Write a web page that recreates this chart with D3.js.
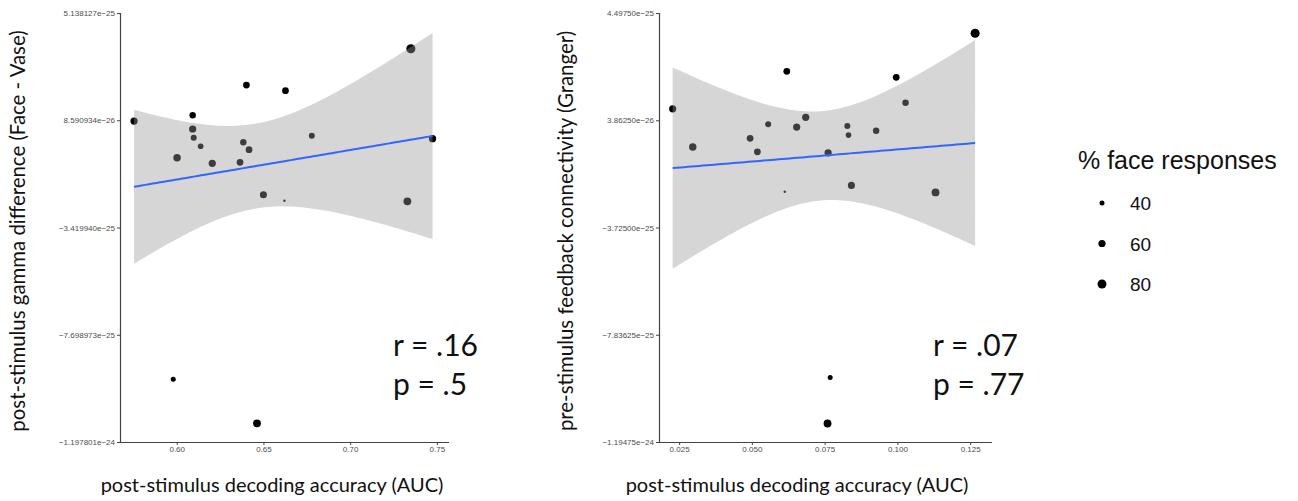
<!DOCTYPE html>
<html>
<head>
<meta charset="utf-8">
<script src="https://cdn.jsdelivr.net/npm/d3@7"></script>
<style>
  body { margin: 0; background: #fff; }
  .tick text { font-family: "Liberation Sans", Arial, sans-serif; font-size: 8px; fill: #4d4d4d; }
  .ttl { font-family: Lato, "Open Sans", sans-serif; fill: #111; }
</style>
</head>
<body>
<svg id="fig" width="1298" height="501"></svg>
<script>
// ---- data (y values in raw units) ----
const gammaX = [0.5754, 0.6092, 0.6092, 0.6098, 0.6138, 0.6002, 0.6205, 0.6402, 0.6627, 0.6384,
                0.6417, 0.6365, 0.6779, 0.7350, 0.7475, 0.6500, 0.6621, 0.7330, 0.5980, 0.6463];
const gammaY = [0.829e-25, 1.057e-25, 0.510e-25, 0.163e-25, -0.180e-25, -0.635e-25, -0.859e-25, 2.265e-25, 2.038e-25, -0.021e-25,
                -0.316e-25, -0.819e-25, 0.243e-25, 3.714e-25, 0.123e-25, -2.111e-25, -2.351e-25, -2.375e-25, -9.477e-25, -11.232e-25];
const gammaPct = [60, 52, 60, 48, 45, 62, 60, 55, 55, 52, 55, 55, 48, 82, 60, 58, 26, 66, 40, 66];

const grangerX = [0.0228, 0.0297, 0.0494, 0.0519, 0.0556, 0.0620, 0.0654, 0.0685, 0.0762, 0.0828,
                  0.0832, 0.0927, 0.0996, 0.1028, 0.1267, 0.0613, 0.0842, 0.1131, 0.0769, 0.0760];
const grangerY = [0.827e-25, -0.642e-25, -0.308e-25, -0.822e-25, 0.229e-25, 2.261e-25, 0.125e-25, 0.497e-25, -0.861e-25, 0.164e-25,
                  -0.182e-25, -0.017e-25, 2.031e-25, 1.057e-25, 3.719e-25, -2.356e-25, -2.111e-25, -2.379e-25, -9.475e-25, -11.239e-25];
const grangerPct = [60, 62, 55, 55, 48, 55, 60, 60, 60, 48, 45, 52, 55, 52, 82, 26, 58, 66, 40, 66];

const gammaXTicks = [0.60, 0.65, 0.70, 0.75];
const gammaYTicks = [5.138127e-25, 8.590934e-26, -3.419940e-25, -7.698973e-25, -1.197801e-24];
const gammaYLabels = ["5.138127e\u221225", "8.590934e\u221226", "\u22123.419940e\u221225", "\u22127.698973e\u221225", "\u22121.197801e\u221224"];

const grangerXTicks = [0.025, 0.050, 0.075, 0.100, 0.125];
const grangerYTicks = [4.49750e-25, 3.86250e-26, -3.72500e-25, -7.83625e-25, -1.19475e-24];
const grangerYLabels = ["4.49750e\u221225", "3.86250e\u221226", "\u22123.72500e\u221225", "\u22127.83625e\u221225", "\u22121.19475e\u221224"];

const legendVals = [40, 60, 80];

const svg = d3.select("#fig");

// point size: area linear in % face responses
const areaScale = d3.scaleLinear().domain([40, 80]).range([6.25, 20]);
const rad = (v) => Math.sqrt(Math.max(areaScale(v), 0.8));

function drawPanel(cfg) {
  const x = d3.scaleLinear().domain(cfg.xDomain).range([cfg.left, cfg.right]);
  const y = d3.scaleLinear().domain([cfg.yTicks[cfg.yTicks.length - 1], cfg.yTicks[0]]).range([442, 13]);
  const g = svg.append("g");

  // points first (ribbon sits on top, as in ggplot)
  g.selectAll(".pt")
    .data(cfg.xs.map((d, i) => ({ x: d, y: cfg.ys[i], p: cfg.pct[i] })))
    .enter()
    .append("circle")
    .attr("class", "pt")
    .attr("cx", (d) => x(d.x))
    .attr("cy", (d) => y(d.y))
    .attr("r", (d) => rad(d.p))
    .attr("fill", "#000");

  // linear fit + 95% CI
  const n = cfg.xs.length;
  const mx = d3.mean(cfg.xs), my = d3.mean(cfg.ys);
  const sxx = d3.sum(cfg.xs, (v) => (v - mx) * (v - mx));
  const sxy = d3.sum(cfg.xs, (v, i) => (v - mx) * (cfg.ys[i] - my));
  const b = sxy / sxx, a = my - b * mx;
  const s = Math.sqrt(d3.sum(cfg.xs, (v, i) => Math.pow(cfg.ys[i] - (a + b * v), 2)) / (n - 2));
  const t = 2.100922;
  const [xmin, xmax] = d3.extent(cfg.xs);
  const grid = d3.range(0, 81).map((k) => xmin + (xmax - xmin) * k / 80);
  const band = grid.map((v) => {
    const f = a + b * v;
    const se = s * Math.sqrt(1 / n + (v - mx) * (v - mx) / sxx);
    return { x: v, f: f, lo: f - t * se, hi: f + t * se };
  });
  g.append("path")
    .datum(band)
    .attr("fill", "#999999")
    .attr("fill-opacity", 0.4)
    .attr("d", d3.area().x((d) => x(d.x)).y0((d) => y(d.lo)).y1((d) => y(d.hi)));
  g.append("path")
    .datum(band)
    .attr("fill", "none")
    .attr("stroke", "#3366FF")
    .attr("stroke-width", 2)
    .attr("d", d3.line().x((d) => x(d.x)).y((d) => y(d.f)));

  // axes
  const xAxis = g.append("g")
    .attr("transform", "translate(0,442)")
    .call(d3.axisBottom(x).tickValues(cfg.xTicks).tickFormat(cfg.xFmt).tickSize(3).tickPadding(1.5));
  const yAxis = g.append("g")
    .attr("transform", "translate(" + cfg.left + ",0)")
    .call(d3.axisLeft(y).tickValues(cfg.yTicks).tickFormat((d, i) => cfg.yLabels[i]).tickSize(3).tickPadding(2));
  [xAxis, yAxis].forEach((ax) => {
    ax.select(".domain").attr("stroke", "#444").attr("stroke-width", 1.2);
    ax.selectAll(".tick line").attr("stroke", "#444");
  });
  xAxis.select(".domain").attr("d", "M" + cfg.left + ",0.5H" + cfg.right);

  // titles
  g.append("text")
    .attr("class", "ttl")
    .attr("x", cfg.xTitleX)
    .attr("y", 492)
    .attr("text-anchor", "middle")
    .style("font-size", "20px")
    .text("post-stimulus decoding accuracy (AUC)");
  g.append("text")
    .attr("class", "ttl")
    .attr("transform", "translate(" + cfg.yTitleX + ",231) rotate(-90)")
    .attr("text-anchor", "middle")
    .style("font-size", "20.4px")
    .text(cfg.yTitle);
  g.append("text")
    .attr("class", "ttl")
    .attr("x", cfg.statX)
    .attr("y", 356)
    .style("font-size", "30px")
    .text(cfg.rText);
  g.append("text")
    .attr("class", "ttl")
    .attr("x", cfg.statX)
    .attr("y", 395)
    .style("font-size", "30px")
    .text(cfg.pText);
}

drawPanel({
  xs: gammaX, ys: gammaY, pct: gammaPct,
  xDomain: [0.5673, 0.7570], left: 120, right: 449,
  xTicks: gammaXTicks, xFmt: d3.format(".2f"),
  yTicks: gammaYTicks, yLabels: gammaYLabels,
  xTitleX: 272, yTitleX: 25, yTitle: "post-stimulus gamma difference (Face - Vase)",
  statX: 393, rText: "r = .16", pText: "p = .5"
});

drawPanel({
  xs: grangerX, ys: grangerY, pct: grangerPct,
  xDomain: [0.0181, 0.1325], left: 659, right: 992,
  xTicks: grangerXTicks, xFmt: d3.format(".3f"),
  yTicks: grangerYTicks, yLabels: grangerYLabels,
  xTitleX: 797, yTitleX: 573, yTitle: "pre-stimulus feedback connectivity (Granger)",
  statX: 933, rText: "r = .07", pText: "p = .77"
});

// size legend
const leg = svg.append("g");
leg.append("text")
  .attr("x", 1078)
  .attr("y", 169)
  .style("font-family", "'Liberation Sans', Arial, sans-serif")
  .style("font-size", "25px")
  .attr("fill", "#111")
  .text("% face responses");
const legY = d3.scalePoint().domain(legendVals).range([203, 284]);
leg.selectAll(".lg-dot")
  .data(legendVals)
  .enter()
  .append("circle")
  .attr("cx", 1102)
  .attr("cy", (d) => legY(d))
  .attr("r", (d) => rad(d))
  .attr("fill", "#000");
leg.selectAll(".lg-txt")
  .data(legendVals)
  .enter()
  .append("text")
  .attr("x", 1130)
  .attr("y", (d) => legY(d) + 7)
  .style("font-family", "'Liberation Sans', Arial, sans-serif")
  .style("font-size", "19px")
  .attr("fill", "#111")
  .text((d) => d);
</script>
</body>
</html>
